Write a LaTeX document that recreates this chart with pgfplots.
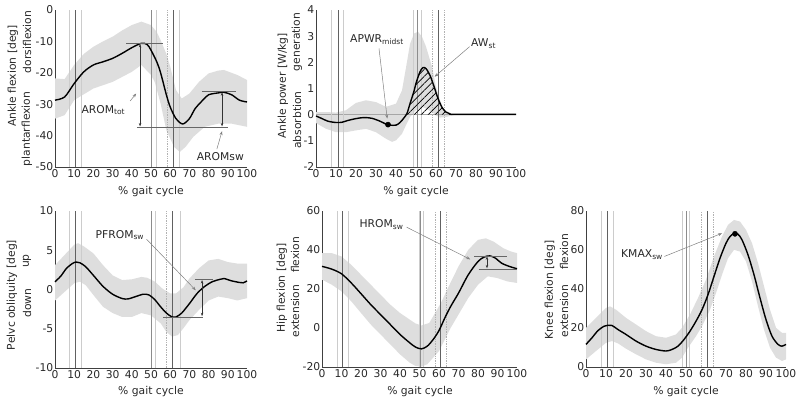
\documentclass[border=0pt]{standalone}
\usepackage{pgfplots}
\pgfplotsset{compat=1.18}
\usepackage{fontspec}
\setmainfont{DejaVu Sans}
\usetikzlibrary{arrows.meta,patterns.meta}
\definecolor{band}{RGB}{222,222,222}
\definecolor{txt}{RGB}{40,40,40}
\newcommand{\vl}[4]{\addplot[#4] coordinates {(#1,#2) (#1,#3)};}
\tikzset{
  evd/.style={black!62, line width=0.7bp},
  evm/.style={black!45, line width=0.6bp},
  evl/.style={black!20, line width=0.6bp},
  evdot/.style={black!30, densely dotted, line width=0.7bp},
  meanl/.style={black, line width=1.4bp, smooth},
  annarrow/.style={black!50, line width=0.5bp, -{Stealth[length=4pt,width=3pt]}},
  dblarrow/.style={black!80, line width=0.5bp, {Stealth[length=3.5pt,width=2.5pt]}-{Stealth[length=3.5pt,width=2.5pt]}},
  hline/.style={black!60, line width=0.5bp},
}
\pgfplotsset{
  gaitax/.style={scale only axis, anchor=south west,
    axis x line*=bottom, axis y line*=left,
    axis line style={-,black!75,line width=0.6bp},
    xmin=0,xmax=100, xtick={0,10,...,100},
    major tick length=0pt, clip=false,
    tick label style={font=\fontsize{10.8}{12}\selectfont, text=txt},
    xticklabel style={inner sep=2pt},
    yticklabel style={inner sep=1.5pt},
    /pgf/number format/assume math mode=true},
}
\begin{document}
\begin{tikzpicture}[x=1bp,y=1bp, font=\fontsize{10.8}{12}\selectfont]
\useasboundingbox (0,0) rectangle (800,402);
% ---------------- Ankle flexion
\begin{axis}[gaitax, at={(55bp,235bp)}, width=192bp, height=157bp, ymin=-50, ymax=0, ytick={-50,-40,...,0}]
\addplot[fill=band, draw=none] coordinates {(0,-21.8)(5,-22)(10,-17.5)(15,-14)(20,-11.7)(25,-10)(30,-8.5)(35,-6.5)(40,-4.8)(45,-3.7)(50,-4.8)(53,-7)(55,-9.6)(58,-14)(60,-18)(63,-25.5)(66,-28.2)(70,-26.6)(75,-22.9)(80,-20.2)(85,-19.3)(88,-19.1)(95,-20.7)(100,-22.3)
(100,-37.2)(92,-36.2)(85,-36.2)(78,-37.2)(72,-40.4)(68,-43.6)(65,-45.2)(62,-43.6)(58,-38.3)(55,-29.8)(52,-23)(50,-20.7)(45,-17.5)(40,-19.7)(30,-22.9)(20,-25)(10,-28.7)(5,-33.5)(0,-34.6)};
\vl{7.5}{-50}{0}{evl}\vl{10.8}{-50}{0}{evd}\vl{13.9}{-50}{0}{evl}
\vl{50.1}{-50}{0}{evm}\vl{52.5}{-50}{0}{evl}
\vl{58.3}{-50}{0}{evdot}\vl{61.6}{-50}{0}{evd,line width=1.2bp}\vl{64.9}{-50}{0}{evl}
\addplot[meanl] coordinates {(0,-28.7)(5,-27.7)(10,-23.4)(15,-19.7)(20,-17.5)(25,-16.5)(30,-15.4)(35,-13.8)(40,-12)(45,-10.6)(48,-11)(50,-12.8)(53,-16.5)(55,-20)(58,-27)(60,-30.9)(63,-34.6)(66.5,-36.3)(70,-34.6)(73,-31.4)(77,-28.7)(80,-27)(85,-26.4)(88,-26.2)(92,-27)(96,-28.7)(100,-29.3)};
\draw[hline] (axis cs:37,-10.5) -- (axis cs:56,-10.5);
\draw[hline] (axis cs:42.6,-37.3) -- (axis cs:90,-37.3);
\draw[hline] (axis cs:76.5,-26) -- (axis cs:94.3,-26);
\draw[dblarrow] (axis cs:44.3,-10.8) -- (axis cs:44.3,-37.1);
\draw[dblarrow] (axis cs:87,-26.2) -- (axis cs:87,-37.1);
\node[text=txt] at (axis cs:25.2,-31.9) {AROM\textsubscript{tot}};
\draw[annarrow] (axis cs:39.1,-29) -- (axis cs:42.3,-26.6);
\node[text=txt] at (axis cs:86.1,-46.8) {AROMsw};
\draw[annarrow] (axis cs:84.3,-44.3) -- (axis cs:87,-38.6);
\end{axis}
% ---------------- Ankle power
\begin{axis}[gaitax, at={(316bp,235bp)}, width=200bp, height=157bp, ymin=-2, ymax=4, ytick={-2,-1,...,4}]
\addplot[fill=band, draw=none] coordinates {(0,0.1)(5,0.1)(10,0.08)(15,0.17)(20,0.45)(25,0.55)(30,0.48)(35,0.3)(40,0.42)(43,0.93)(45,1.8)(47,2.7)(49,3.1)(51,3.17)(53,2.98)(55,2.6)(58,1.83)(60,1.06)(62,0.55)(64,0.17)(66,0.02)(70,0)(100,0)
(100,0)(70,0)(68,-0.03)(65,-0.09)(62,-0.11)(60,-0.03)(58,0.1)(55,0.23)(53,0.3)(50,0.17)(47,-0.09)(45,-0.4)(43,-0.73)(40,-0.98)(38,-1.04)(35,-0.92)(30,-0.67)(25,-0.54)(20,-0.6)(15,-0.67)(10,-0.67)(5,-0.54)(0,-0.32)};
\addplot[black!35, line width=0.6bp] coordinates {(0,0)(100,0)};
\vl{7.7}{-2}{4}{evl}\vl{11}{-2}{4}{evd}\vl{13.8}{-2}{4}{evl}
\vl{48.8}{-2}{4}{evl}\vl{50.5}{-2}{4}{evm}\vl{52.5}{-2}{4}{evl}
\vl{58.3}{-2}{4}{evdot}\vl{61.3}{-2}{4}{evd}\vl{64.3}{-2}{4}{evdot}
\addplot[draw=none, pattern={Lines[angle=45,distance=5pt,line width=0.7bp]}] coordinates {(45.3,0)(45.5,0.05)(47,0.42)(49,0.9)(50,1.2)(52,1.64)(53.5,1.8)(55,1.76)(57,1.5)(59,1.08)(61,0.62)(63,0.28)(65,0.1)(67,0.03)(70,0.01)(70,0)};
\addplot[meanl] coordinates {(0,-0.05)(3,-0.15)(6,-0.25)(10,-0.3)(13,-0.29)(16,-0.22)(20,-0.15)(24,-0.11)(28,-0.14)(32,-0.25)(35,-0.36)(37,-0.4)(40,-0.4)(42,-0.3)(44,-0.12)(45.5,0.05)(47,0.42)(49,0.9)(50,1.2)(52,1.64)(53.5,1.8)(55,1.76)(57,1.5)(59,1.08)(61,0.62)(63,0.28)(65,0.1)(67,0.03)(70,0.01)(100,0.01)};
\addplot[only marks, mark=*, mark size=2.6bp, black] coordinates {(36,-0.38)};
\node[text=txt] at (axis cs:30.5,2.88) {APWR\textsubscript{midst}};
\draw[annarrow] (axis cs:31.5,2.53) -- (axis cs:35.6,-0.15);
\node[text=txt] at (axis cs:83.8,2.72) {AW\textsubscript{st}};
\draw[annarrow] (axis cs:76.8,2.6) -- (axis cs:59.3,1.45);
\end{axis}
% ---------------- Pelvic obliquity
\begin{axis}[gaitax, at={(55bp,34bp)}, width=192bp, height=157bp, ymin=-10, ymax=10, ytick={-10,-5,0,5,10}]
\addplot[fill=band, draw=none] coordinates {(0,3.1)(5,4.4)(10,5.7)(12,5.9)(15,5.5)(20,4.6)(25,3.1)(30,1.8)(35,1.2)(40,1.3)(45,1.6)(48,1.5)(52,1.0)(56,0.1)(60,-0.5)(63,-0.5)(67,0.3)(70,1.4)(75,2.7)(80,3.7)(85,3.9)(90,3.5)(95,3.3)(100,3.3)
(100,-1.1)(95,-1.4)(90,-1.1)(85,-0.9)(80,-1.4)(75,-2.6)(70,-3.9)(67,-4.9)(64,-5.8)(61,-6.0)(58,-5.4)(55,-4.3)(50,-3.3)(45,-3)(40,-3.5)(35,-3.5)(30,-3)(25,-2.2)(20,-0.7)(16,0.55)(13,1.0)(10,0.8)(5,-0.3)(0,-1.4)};
\vl{7.5}{-10}{10}{evl}\vl{10.6}{-10}{10}{evd}\vl{13.9}{-10}{10}{evl}
\vl{50.3}{-10}{10}{evm}\vl{52}{-10}{10}{evl}
\vl{58}{-10}{10}{evdot}\vl{61.3}{-10}{10}{evd,line width=1.2bp}\vl{65}{-10}{10}{evl}
\addplot[meanl] coordinates {(0,0.98)(3,1.7)(6,2.7)(9,3.3)(11,3.5)(13,3.4)(16,2.9)(20,1.8)(25,0.4)(30,-0.6)(35,-1.15)(38,-1.2)(42,-0.9)(46,-0.6)(49,-0.7)(52,-1.3)(55,-2.2)(58,-3.0)(61,-3.5)(63,-3.5)(66,-3.0)(70,-1.8)(74,-0.5)(78,0.4)(82,1.0)(86,1.3)(88,1.4)(92,1.1)(96,0.9)(98,0.85)(100,1.1)};
\draw[hline] (axis cs:72.8,1.3) -- (axis cs:82.3,1.3);
\draw[hline] (axis cs:56.3,-3.5) -- (axis cs:77,-3.5);
\draw[dblarrow] (axis cs:76.6,1.2) -- (axis cs:76.6,-3.4);
\node[text=txt] at (axis cs:33.8,6.94) {PFROM\textsubscript{sw}};
\draw[annarrow] (axis cs:47.7,6.4) -- (axis cs:73.3,-0.1);
\end{axis}
% ---------------- Hip flexion
\begin{axis}[gaitax, at={(322bp,35bp)}, width=195bp, height=156bp, ymin=-20, ymax=60, ytick={-20,0,...,60}]
\addplot[fill=band, draw=none] coordinates {(0,38.4)(5,38.4)(10,36.7)(15,32.4)(20,27.3)(25,22.2)(30,17.1)(35,12)(40,7.7)(45,4.3)(48,2.3)(51,1.3)(55,2.6)(58,7.7)(61,12.9)(65,21.4)(70,31.6)(75,40.1)(80,45.2)(84,46)(88,44.3)(93,40.9)(97,39.2)(100,38.4)
(100,23.1)(95,23.9)(90,25.6)(85,26.5)(80,22.2)(75,15.4)(70,6.9)(66,0.1)(63,-5.9)(60,-11.8)(57,-15.2)(54,-18.6)(51,-19.8)(48,-19.5)(45,-17.8)(40,-13.5)(35,-8.4)(30,-3.3)(25,1.8)(20,7.7)(15,13.7)(10,18.8)(5,22.2)(0,24.8)};
\vl{7.9}{-20}{60}{evl}\vl{10.5}{-20}{60}{evd}\vl{13.7}{-20}{60}{evl}
\vl{49.7}{-20}{60}{evl}\vl{50.6}{-20}{60}{evm}\vl{52}{-20}{60}{evl}
\vl{58}{-20}{60}{evdot}\vl{60.9}{-20}{60}{evd}\vl{64}{-20}{60}{evdot}
\addplot[meanl] coordinates {(0,31.6)(5,30.2)(10,27.8)(15,23.1)(20,17.6)(25,12)(30,6.9)(35,1.8)(40,-3.3)(45,-7.6)(48,-9.8)(51,-10.7)(54,-9.3)(57,-5.9)(60,-1.3)(63,5.2)(66,11.1)(70,17.9)(75,27.3)(80,34.1)(83,36.3)(86,37)(89,35.8)(92,33.3)(96,31.6)(100,30.4)};
\draw[hline] (axis cs:78,37) -- (axis cs:95,37);
\draw[hline] (axis cs:80.3,30.3) -- (axis cs:100,30.3);
\draw[dblarrow] (axis cs:84.6,36.7) -- (axis cs:84.6,30.6);
\node[text=txt] at (axis cs:30.5,52.9) {HROM\textsubscript{sw}};
\draw[annarrow] (axis cs:43.4,51.7) -- (axis cs:76,35.2);
\end{axis}
% ---------------- Knee flexion
\begin{axis}[gaitax, at={(586bp,35bp)}, width=200bp, height=156bp, ymin=0, ymax=80, ytick={0,20,...,80}]
\addplot[fill=band, draw=none] coordinates {(0,20.1)(5,25.2)(10,30.3)(12,31.1)(15,29.4)(20,25.2)(25,21.8)(30,18.4)(35,15.8)(40,15)(45,16.7)(48,20.1)(52,26.9)(56,35.4)(60,44.8)(64,56.7)(68,66.9)(71,72.9)(74,75.4)(77,74.6)(80,70.3)(83,63.5)(86,53.3)(89,41.4)(92,29.4)(95,20.1)(98,17.5)(100,17.5)
(100,3.9)(98,3.1)(95,4.8)(92,9.9)(89,19.2)(86,31.1)(83,43.9)(80,54.1)(77,59.2)(74,60.1)(71,55.8)(68,47.3)(65,37.9)(62,29.4)(58,20.9)(55,15.8)(51,9.9)(48,4.8)(45,2.2)(40,1.4)(35,2.2)(30,3.9)(25,6.5)(20,9.4)(16,12.1)(13,13.3)(10,12.4)(5,8.2)(0,3.9)};
\vl{7.7}{0}{80}{evl}\vl{10.5}{0}{80}{evd}\vl{13.8}{0}{80}{evl}
\vl{48.3}{0}{80}{evl}\vl{50}{0}{80}{evm}\vl{51.7}{0}{80}{evl}
\vl{57.5}{0}{80}{evdot}\vl{60.5}{0}{80}{evd}\vl{63.5}{0}{80}{evdot}
\addplot[meanl] coordinates {(0,11.6)(3,15)(6,18.7)(9,20.9)(11,21.4)(13,21.3)(16,19.2)(20,16.7)(25,13.3)(30,10.7)(35,9.0)(40,8.2)(43,9)(46,10.7)(49,14.1)(52,18.4)(55,23.5)(58,29.4)(61,37.1)(64,46.5)(67,55.8)(70,63.5)(72,66.9)(74,68.4)(76,68.1)(78,65.2)(81,57.5)(84,47.3)(87,35.4)(90,24.3)(93,15.8)(96,11.6)(98,10.7)(100,11.6)};
\addplot[only marks, mark=*, mark size=2.6bp, black] coordinates {(74.5,68.3)};
\node[text=txt] at (axis cs:28,57.5) {KMAX\textsubscript{sw}};
\draw[annarrow] (axis cs:39.2,56.7) -- (axis cs:68,68.6);
\end{axis}
% ---------------- axis labels
\begin{scope}[text=txt]
\node[rotate=90] at (13,326) {Ankle flexion [deg]};
\node[rotate=90] at (27,360) {dorsiflexion};
\node[rotate=90] at (27,273) {plantarflexion};
\node at (151,210) {\% gait cycle};
\node[rotate=90] at (283,316) {Ankle power [W/kg]};
\node[rotate=90] at (297,360) {generation};
\node[rotate=90] at (297,282) {absorbtion};
\node at (416,210) {\% gait cycle};
\node[rotate=90] at (12,107) {Pelvc obliquity [deg]};
\node[rotate=90] at (27,141) {up};
\node[rotate=90] at (27,99) {down};
\node at (151,10) {\% gait cycle};
\node[rotate=90] at (282,114) {Hip flexion [deg]};
\node[rotate=90] at (295,147) {flexion};
\node[rotate=90] at (295,91) {extension};
\node at (420,10) {\% gait cycle};
\node[rotate=90] at (550,112) {Knee flexion [deg]};
\node[rotate=90] at (564,150) {flexion};
\node[rotate=90] at (564,91) {extension};
\node at (686,10) {\% gait cycle};
\end{scope}
\end{tikzpicture}
\end{document}
